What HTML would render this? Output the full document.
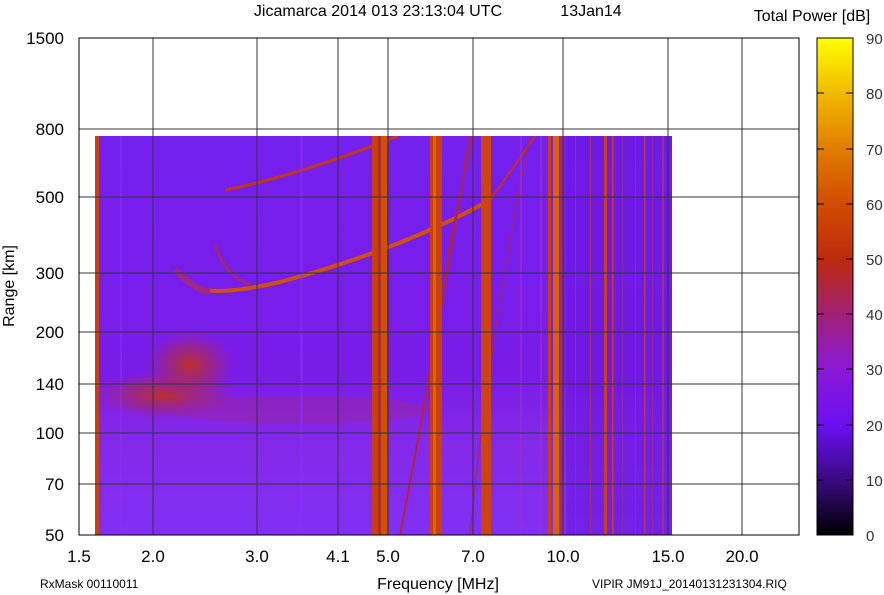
<!DOCTYPE html>
<html><head><style>
html,body{margin:0;padding:0;background:#fff;}
svg{display:block;font-family:"Liberation Sans",sans-serif;}
</style></head><body>
<svg width="884" height="595" viewBox="0 0 884 595" xmlns="http://www.w3.org/2000/svg">
<defs>
<linearGradient id="cb" x1="0" y1="1" x2="0" y2="0">
<stop offset="0" stop-color="#000000"/>
<stop offset="0.11" stop-color="#3a0a80"/>
<stop offset="0.22" stop-color="#6a10f0"/>
<stop offset="0.33" stop-color="#8a18d8"/>
<stop offset="0.44" stop-color="#a0207a"/>
<stop offset="0.55" stop-color="#bb2a10"/>
<stop offset="0.66" stop-color="#d04a00"/>
<stop offset="0.77" stop-color="#e07a00"/>
<stop offset="0.88" stop-color="#f0b400"/>
<stop offset="1" stop-color="#ffff00"/>
</linearGradient>
<linearGradient id="bg" x1="0" y1="0" x2="0" y2="1">
<stop offset="0" stop-color="#7420ee"/>
<stop offset="0.6" stop-color="#7a1ce8"/>
<stop offset="0.75" stop-color="#8428e8"/>
<stop offset="1" stop-color="#8030f4"/>
</linearGradient>
<radialGradient id="es" cx="0.5" cy="0.5" r="0.5">
<stop offset="0" stop-color="#c03020" stop-opacity="0.95"/>
<stop offset="0.6" stop-color="#a02870" stop-opacity="0.6"/>
<stop offset="1" stop-color="#9a20b0" stop-opacity="0"/>
</radialGradient>
<clipPath id="dc"><rect x="95" y="136" width="577" height="399"/></clipPath>
</defs>
<text x="378" y="16" font-size="16" text-anchor="middle">Jicamarca 2014 013 23:13:04 UTC</text>
<text x="591" y="16" font-size="16" text-anchor="middle">13Jan14</text>
<text x="812" y="21" font-size="16" text-anchor="middle">Total Power [dB]</text>
<!-- data -->
<rect x="95" y="136" width="577" height="399" fill="url(#bg)"/>
<g clip-path="url(#dc)">
<rect x="95" y="136" width="4" height="399" fill="#c84010"/>
<ellipse cx="165" cy="395" rx="75" ry="25" fill="url(#es)"/>
<ellipse cx="190" cy="365" rx="45" ry="35" fill="url(#es)"/>
<ellipse cx="300" cy="410" rx="130" ry="14" fill="#9a24a0" opacity="0.5"/>
<path d="M225 190 Q300 175 398 136" stroke="#c03818" stroke-width="3" fill="none"/>
<path d="M195 288 Q220 296 280 282 Q400 250 490 200" stroke="#d05010" stroke-width="4" fill="none"/>
<path d="M490 200 Q515 165 535 136" stroke="#c03020" stroke-width="2" fill="none"/>
<path d="M175 270 Q195 290 210 292" stroke="#a02880" stroke-width="6" fill="none"/>
<path d="M215 245 Q225 275 250 285" stroke="#a02870" stroke-width="3" fill="none"/>
<path d="M400 535 Q430 380 470 136" stroke="#b02838" stroke-width="2" fill="none"/>
<path d="M470 535 Q490 330 530 136" stroke="#a02860" stroke-width="1.2" fill="none"/>
<path d="M440 300 Q460 180 475 136" stroke="#a02860" stroke-width="1.2" fill="none"/>
<rect x="372" y="136" width="6" height="399" fill="#c8400c"/>
<rect x="378" y="136" width="3" height="399" fill="#b03020"/>
<rect x="381" y="136" width="6" height="399" fill="#d05008"/>
<rect x="430" y="136" width="12" height="399" fill="#c8400c"/>
<rect x="433" y="136" width="3" height="399" fill="#e06010"/>
<rect x="481" y="136" width="10" height="399" fill="#cc4410"/>
<rect x="548" y="136" width="3" height="399" fill="#c84010"/>
<rect x="553" y="136" width="6" height="399" fill="#d86010"/>
<rect x="560" y="136" width="3" height="399" fill="#a02880"/>
<rect x="566" y="136" width="106" height="399" fill="#6a18e0" opacity="0.6"/>
<rect x="575" y="136" width="1" height="399" fill="#9a2a90"/>
<rect x="590" y="136" width="1" height="399" fill="#a03070"/>
<rect x="604" y="136" width="3" height="399" fill="#c84018"/>
<rect x="612" y="136" width="1.5" height="399" fill="#c84018"/>
<rect x="622" y="136" width="1" height="399" fill="#9028a0"/>
<rect x="635" y="136" width="1" height="399" fill="#9828a0"/>
<rect x="644" y="136" width="1.5" height="399" fill="#b03850"/>
<rect x="652" y="136" width="1" height="399" fill="#9028a0"/>
<rect x="662" y="136" width="2" height="399" fill="#a03080"/>
<rect x="520" y="136" width="2" height="399" fill="#9a30c0" opacity="0.7"/>
<rect x="540" y="136" width="2" height="399" fill="#9a30c0" opacity="0.7"/>
<rect x="120" y="136" width="2" height="399" fill="#8a30f8" opacity="0.5"/>
<rect x="300" y="136" width="3" height="399" fill="#8a30f8" opacity="0.5"/>
</g>
<!-- grid -->
<g stroke="#333" stroke-width="1" fill="none">
<path d="M153 38V535M257 38V535M338 38V535M388 38V535M473 38V535M563 38V535M668 38V535M742 38V535"/>
<path d="M79 129H799M79 197H799M79 273H799M79 332H799M79 384H799M79 433H799M79 484H799"/>
<rect x="79" y="38" width="720" height="497" stroke="#000"/>
</g>
<g font-size="17" text-anchor="end">
<text x="64" y="44">1500</text><text x="64" y="135">800</text><text x="64" y="203">500</text>
<text x="64" y="279">300</text><text x="64" y="338">200</text><text x="64" y="390">140</text>
<text x="64" y="439">100</text><text x="64" y="490">70</text><text x="64" y="541">50</text>
</g>
<g font-size="17" text-anchor="middle">
<text x="79" y="562">1.5</text><text x="153" y="562">2.0</text><text x="257" y="562">3.0</text>
<text x="338" y="562">4.1</text><text x="388" y="562">5.0</text><text x="473" y="562">7.0</text>
<text x="563" y="562">10.0</text><text x="668" y="562">15.0</text><text x="742" y="562">20.0</text>
</g>
<text x="438" y="589" font-size="16" text-anchor="middle">Frequency [MHz]</text>
<text transform="translate(14,286) rotate(-90)" font-size="16" text-anchor="middle">Range [km]</text>
<text x="40" y="588" font-size="12">RxMask 00110011</text>
<text x="592" y="588" font-size="12">VIPIR  JM91J_20140131231304.RIQ</text>
<!-- colorbar -->
<rect x="817" y="38" width="36" height="497" fill="url(#cb)" stroke="#000"/>
<g stroke="#000">
<path d="M817 93h7M846 93h7M817 149h7M846 149h7M817 204h7M846 204h7M817 259h7M846 259h7M817 314h7M846 314h7M817 369h7M846 369h7M817 425h7M846 425h7M817 480h7M846 480h7"/>
</g>
<g font-size="15" fill="#333">
<text x="866" y="44">90</text><text x="866" y="99">80</text><text x="866" y="155">70</text>
<text x="866" y="210">60</text><text x="866" y="265">50</text><text x="866" y="320">40</text>
<text x="866" y="375">30</text><text x="866" y="431">20</text><text x="866" y="486">10</text>
<text x="866" y="541">0</text>
</g>
</svg>
</body></html>
